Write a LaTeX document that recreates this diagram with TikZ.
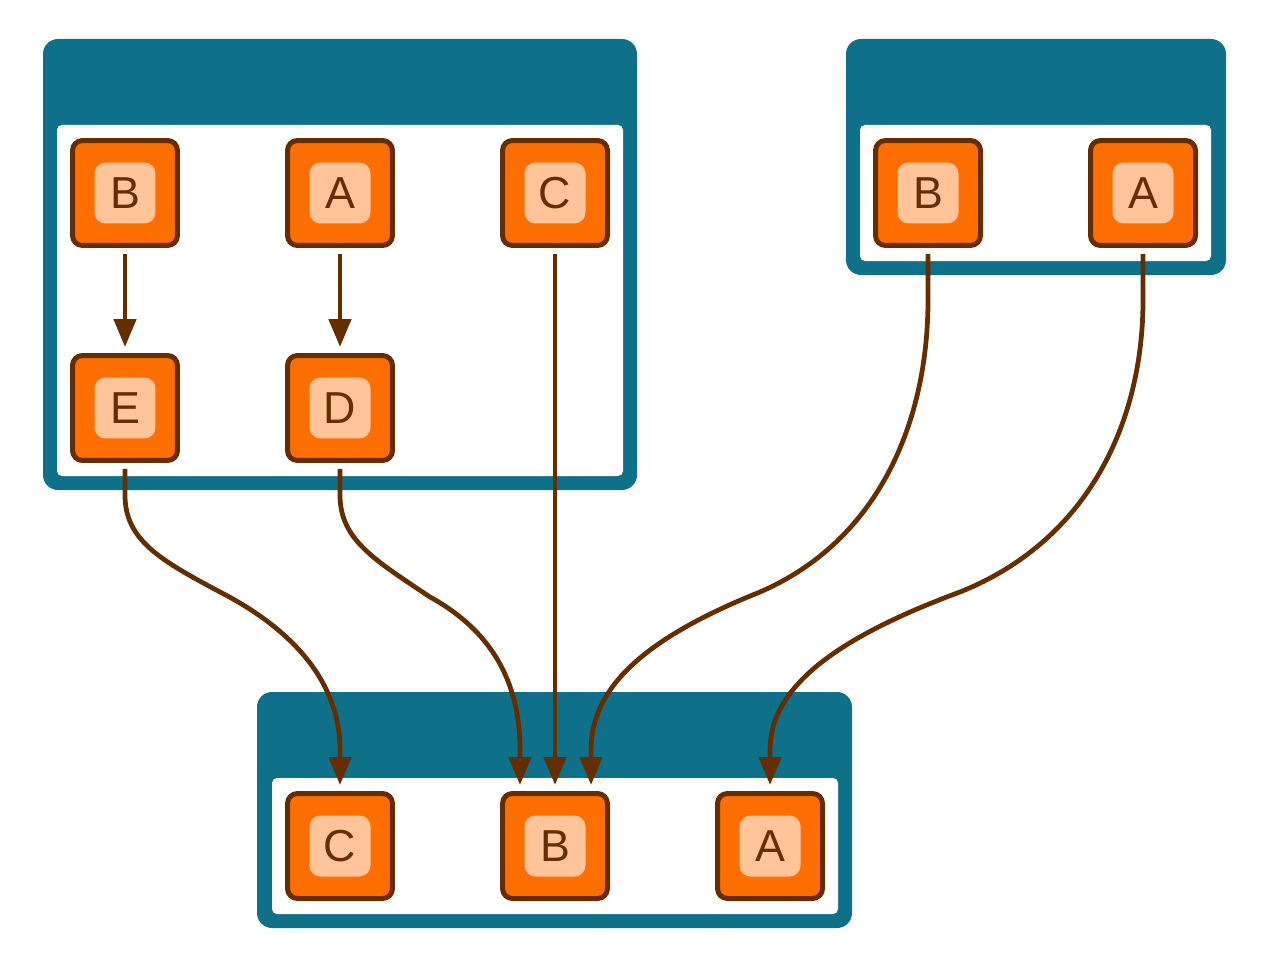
\documentclass[tikz,border=0pt]{standalone}
\usepackage{fontspec}
\setmainfont{Liberation Sans}
\usetikzlibrary{arrows.meta,calc}
\definecolor{teal}{RGB}{14,113,137}
\definecolor{orng}{RGB}{255,110,0}
\definecolor{brwn}{RGB}{102,46,0}
\definecolor{peach}{RGB}{255,196,153}
\begin{document}
\begin{tikzpicture}[x=0.02cm, y=-0.02cm, >={Triangle[length=0.56cm,width=0.44cm]},
		job/.style={draw=brwn, fill=orng, line width=0.1cm, rounded corners=0.2cm, minimum size=2.1cm, inner sep=0pt, outer sep=0.17cm},
		tag/.style={fill=peach, text=brwn, rounded corners=0.22cm, minimum size=1.22cm, inner sep=0pt, font=\fontsize{25.5}{30}\selectfont},
		dep/.style={->, draw=brwn, line width=0.095cm}]
				\useasboundingbox (0,0) rectangle (1263,973);
				% 1. 分组框
				\fill[teal, rounded corners=0.3cm] (43,39) rectangle (637,490);
				\fill[white, rounded corners=0.1cm] (57,125) rectangle (623,476);
				\fill[teal, rounded corners=0.3cm] (846,39) rectangle (1226,275);
				\fill[white, rounded corners=0.1cm] (860,125) rectangle (1211,261);
				\fill[teal, rounded corners=0.3cm] (257,692) rectangle (852,928);
				\fill[white, rounded corners=0.1cm] (272,778) rectangle (838,914);
				
				% 2. 左组
				\node[job, label={[tag]center:B}] (lB) at (125,193) {};
				\node[job, label={[tag]center:A}] (lA) at (340,193) {};
				\node[job, label={[tag]center:C}] (lC) at (555,193) {};
				\node[job, label={[tag]center:E}] (lE) at (125,408) {};
				\node[job, label={[tag]center:D}] (lD) at (340,408) {};
				
				% 3. 右组
				\node[job, label={[tag]center:B}] (rB) at (928,193) {};
				\node[job, label={[tag]center:A}] (rA) at (1143,193) {};
				
				% 4. 下组
				\node[job, label={[tag]center:C}] (bC) at (340,846) {};
				\node[job, label={[tag]center:B}] (bB) at (555,846) {};
				\node[job, label={[tag]center:A}] (bA) at (770,846) {};
				
				% 5. 依赖箭头
				\draw[dep] (lB.south) -- (lE.north);
				\draw[dep] (lA.south) -- (lD.north);
				\draw[dep] (lC.south) -- (bB.north);
				\draw[dep] (lE.south) -- (125,495) .. controls (125,540) and (160,560) .. (220,592)
					.. controls (290,628) and (340,680) .. (340,750) -- (bC.north);
				\draw[dep] (lD.south) -- (340,495) .. controls (340,540) and (375,560) .. (430,597)
					.. controls (490,630) and (520,680) .. (520,750) -- ($(bB.north)+(-35,0)$);
				\draw[dep] (rB.south) -- (928,300) .. controls (928,420) and (880,540) .. (760,592)
					.. controls (640,640) and (591,690) .. (591,750) -- ($(bB.north)+(36,0)$);
				\draw[dep] (rA.south) -- (1143,300) .. controls (1143,420) and (1090,540) .. (960,592)
					.. controls (830,640) and (770,690) .. (770,750) -- (bA.north);
			\end{tikzpicture}
\end{document}
